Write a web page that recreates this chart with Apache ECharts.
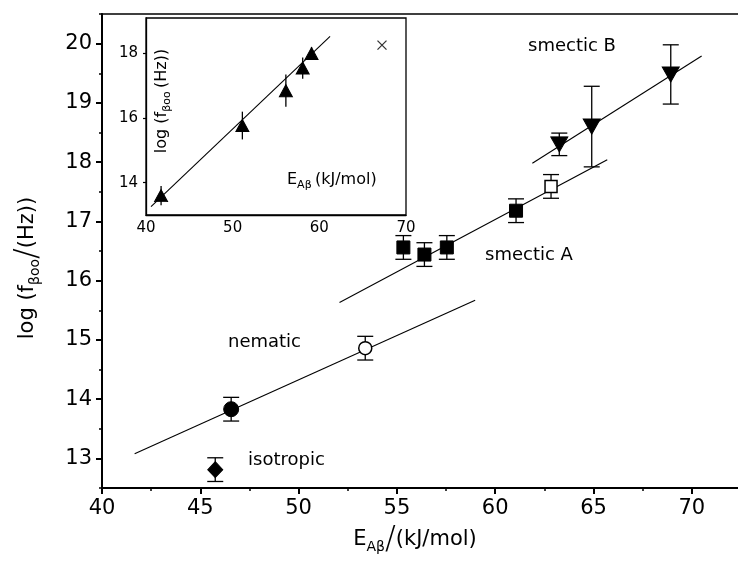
<!DOCTYPE html>
<html>
<head>
<meta charset="utf-8">
<script src="https://cdn.jsdelivr.net/npm/echarts@6/dist/echarts.min.js"></script>
<style>
html, body { margin: 0; padding: 0; background: #fff; }
#chart { width: 738px; height: 562px; }
</style>
</head>
<body>
<div id="chart"></div>
<script>
// main panel: values
const isoX = [45.76]
const isoY = [12.81]
const isoErr = [0.2]
const nemX = [46.57]
const nemY = [13.83]
const nemErr = [0.2]
const nemOpenX = [53.39]
const nemOpenY = [14.86]
const nemOpenErr = [0.2]
const smAX = [55.33, 56.4, 57.54, 61.06]
const smAY = [16.56, 16.44, 16.56, 17.18]
const smAErr = [0.2, 0.2, 0.2, 0.2]
const smAOpenX = [62.84]
const smAOpenY = [17.59]
const smAOpenErr = [0.2]
const smBX = [63.26, 64.91, 68.93]
const smBY = [18.3, 18.6, 19.48]
const smBErr = [0.19, 0.68, 0.5]

// fitted lines (end points)
const nemLineX = [41.66, 58.98]
const nemLineY = [13.08, 15.67]
const smALineX = [52.08, 65.7]
const smALineY = [15.63, 18.04]
const smBLineX = [61.89, 70.5]
const smBLineY = [17.98, 19.79]

// inset
const insX = [41.74, 51.12, 56.14, 58.08, 59.1]
const insY = [13.6, 15.77, 16.85, 17.55, 18.0]
const insErr = [0.3, 0.43, 0.5, 0.33, 0.2]
const insCrossX = [67.23]
const insCrossY = [18.26]
const insLineX = [40.58, 61.24]
const insLineY = [13.26, 18.53]

// ticks
const xMajor = [40, 45, 50, 55, 60, 65, 70]
const xMinor = [42.5, 47.5, 52.5, 57.5, 62.5, 67.5]
const yMajor = [13, 14, 15, 16, 17, 18, 19, 20]
const yMinor = [12.5, 13.5, 14.5, 15.5, 16.5, 17.5, 18.5, 19.5, 20.5]
const insYTicks = [14, 16, 18]

const FONT = 'DejaVu Sans'
const pairs = (xs, ys) => xs.map((x, i) => [x, ys[i]])

const errorBars = (xs, ys, errs, cap, idx) => ({
  type: 'custom',
  xAxisIndex: idx === 0 ? 0 : 3,
  yAxisIndex: idx === 0 ? 0 : 2,
  encode: { x: 0, y: [1, 2] },
  data: xs.map((x, i) => [x, ys[i] - errs[i], ys[i] + errs[i]]),
  z: 3,
  silent: true,
  renderItem: (params, api) => {
    const lo = api.coord([api.value(0), api.value(1)])
    const hi = api.coord([api.value(0), api.value(2)])
    const st = { stroke: '#000', lineWidth: 1.3 }
    const children = [{ type: 'line', shape: { x1: lo[0], y1: lo[1], x2: hi[0], y2: hi[1] }, style: st }]
    if (cap) {
      children.push({ type: 'line', shape: { x1: lo[0] - cap, y1: lo[1], x2: lo[0] + cap, y2: lo[1] }, style: st })
      children.push({ type: 'line', shape: { x1: hi[0] - cap, y1: hi[1], x2: hi[0] + cap, y2: hi[1] }, style: st })
    }
    return { type: 'group', children }
  }
})

const fitLine = (xs, ys, idx) => ({
  type: 'line',
  xAxisIndex: idx === 0 ? 0 : 3,
  yAxisIndex: idx === 0 ? 0 : 2,
  data: pairs(xs, ys),
  symbol: 'none',
  lineStyle: { color: '#000', width: 1.1 },
  silent: true,
  z: 2
})

const marker = (xs, ys, symbol, size, filled, rotate, idx) => ({
  type: 'scatter',
  xAxisIndex: idx === 0 ? 0 : 3,
  yAxisIndex: idx === 0 ? 0 : 2,
  data: pairs(xs, ys),
  symbol: symbol,
  symbolSize: size,
  symbolRotate: rotate || 0,
  itemStyle: filled
    ? { color: '#000', borderColor: '#000', borderWidth: 1, opacity: 1 }
    : { color: '#fff', borderColor: '#000', borderWidth: 1.5, opacity: 1 },
  z: 4
})

const chart = echarts.init(document.getElementById('chart'))

const option = {
  animation: false,
  backgroundColor: '#fff',
  grid: [
    { left: 102, top: 14, right: 0, bottom: 74 },
    { left: 146, top: 18, width: 260, height: 197, show: true, borderColor: '#000', borderWidth: 1.3, backgroundColor: '#fff' }
  ],
  xAxis: [
    {
      type: 'value', gridIndex: 0, min: 40, max: 72.35,
      name: '{n|E}{s|Aβ}{sl|/}{n|(kJ/mol)}',
      nameLocation: 'middle', nameGap: 32,
      nameTextStyle: {
        color: '#000', fontFamily: FONT, fontSize: 21, padding: [0, 10, 0, 0],
        rich: {
          n: { fontFamily: FONT, fontSize: 21, color: '#000' },
          s: { fontFamily: FONT, fontSize: 14, color: '#000', padding: [14, 0, 0, 0] },
          sl: { fontFamily: FONT, fontSize: 32, color: '#000', fontWeight: 'lighter' }
        }
      },
      axisLine: { onZero: false, lineStyle: { color: '#000', width: 2 } },
      axisTick: { customValues: xMajor, length: 6, lineStyle: { color: '#000', width: 2 } },
      axisLabel: { customValues: xMajor, color: '#000', fontFamily: FONT, fontSize: 21, margin: 10 },
      splitLine: { show: false }
    },
    {
      type: 'value', gridIndex: 0, min: 40, max: 72.35, position: 'bottom',
      axisLine: { show: false, onZero: false },
      axisTick: { customValues: xMinor, length: 3, lineStyle: { color: '#000', width: 1.5 } },
      axisLabel: { show: false },
      splitLine: { show: false }
    },
    // top frame line of the main panel
    {
      type: 'value', gridIndex: 0, min: 40, max: 72.35, position: 'top',
      axisLine: { onZero: false, lineStyle: { color: '#000', width: 1.5 } },
      axisTick: { show: false },
      axisLabel: { show: false },
      splitLine: { show: false }
    },
    {
      type: 'value', gridIndex: 1, min: 40, max: 70, interval: 10,
      axisLine: { onZero: false, lineStyle: { color: '#000', width: 1.3 } },
      axisTick: { show: false },
      axisLabel: { color: '#000', fontFamily: FONT, fontSize: 15, margin: 6 },
      splitLine: { show: false }
    }
  ],
  yAxis: [
    {
      type: 'value', gridIndex: 0, min: 12.5, max: 20.5,
      name: '{n|log (f}{s|βoo}{sl|/}{n|(Hz))}',
      nameLocation: 'middle', nameGap: 58, nameRotate: 90,
      nameTextStyle: {
        color: '#000', fontFamily: FONT, fontSize: 21, padding: [0, 34, 0, 0],
        rich: {
          n: { fontFamily: FONT, fontSize: 21, color: '#000' },
          s: { fontFamily: FONT, fontSize: 14, color: '#000', padding: [14, 0, 0, 0] },
          sl: { fontFamily: FONT, fontSize: 32, color: '#000', fontWeight: 'lighter' }
        }
      },
      axisLine: { onZero: false, lineStyle: { color: '#000', width: 2 } },
      axisTick: { customValues: yMajor, length: 6, lineStyle: { color: '#000', width: 2 } },
      axisLabel: { customValues: yMajor, color: '#000', fontFamily: FONT, fontSize: 21, margin: 10 },
      splitLine: { show: false }
    },
    {
      type: 'value', gridIndex: 0, min: 12.5, max: 20.5, position: 'left',
      axisLine: { show: false, onZero: false },
      axisTick: { customValues: yMinor, length: 3, lineStyle: { color: '#000', width: 1.5 } },
      axisLabel: { show: false },
      splitLine: { show: false }
    },
    {
      type: 'value', gridIndex: 1, min: 13, max: 19.1,
      axisLine: { onZero: false, lineStyle: { color: '#000', width: 1.3 } },
      axisTick: { customValues: insYTicks, length: 3, lineStyle: { color: '#000', width: 1.2 } },
      axisLabel: { customValues: insYTicks, color: '#000', fontFamily: FONT, fontSize: 15, margin: 8 },
      splitLine: { show: false }
    }
  ],
  series: [
    fitLine(nemLineX, nemLineY, 0),
    fitLine(smALineX, smALineY, 0),
    fitLine(smBLineX, smBLineY, 0),
    errorBars(isoX, isoY, isoErr, 8, 0),
    errorBars(nemX, nemY, nemErr, 8, 0),
    errorBars(nemOpenX, nemOpenY, nemOpenErr, 8, 0),
    errorBars(smAX, smAY, smAErr, 8, 0),
    errorBars(smAOpenX, smAOpenY, smAOpenErr, 8, 0),
    errorBars(smBX, smBY, smBErr, 8, 0),
    marker(isoX, isoY, 'diamond', [15, 16], true, 0, 0),
    marker(nemX, nemY, 'circle', 15, true, 0, 0),
    marker(nemOpenX, nemOpenY, 'circle', 13, false, 0, 0),
    marker(smAX, smAY, 'rect', 13, true, 0, 0),
    marker(smAOpenX, smAOpenY, 'rect', 12, false, 0, 0),
    marker(smBX, smBY, 'triangle', [17, 15], true, 180, 0),
    // inset
    fitLine(insLineX, insLineY, 1),
    errorBars(insX, insY, insErr, 0, 1),
    marker(insX, insY, 'triangle', [13, 12], true, 0, 1),
    {
      type: 'scatter', xAxisIndex: 3, yAxisIndex: 2,
      data: pairs(insCrossX, insCrossY),
      symbol: 'path://M0 0L10 10M10 0L0 10',
      symbolSize: 9,
      itemStyle: { color: 'none', borderColor: '#000', borderWidth: 1.3 },
      z: 4
    }
  ],
  graphic: [
    { type: 'text', x: 528, y: 46, z: 10, style: { text: 'smectic B', fontFamily: FONT, fontSize: 18, fill: '#000', verticalAlign: 'middle' } },
    { type: 'text', x: 485, y: 255, z: 10, style: { text: 'smectic A', fontFamily: FONT, fontSize: 18, fill: '#000', verticalAlign: 'middle' } },
    { type: 'text', x: 228, y: 342, z: 10, style: { text: 'nematic', fontFamily: FONT, fontSize: 18, fill: '#000', verticalAlign: 'middle' } },
    { type: 'text', x: 248, y: 460, z: 10, style: { text: 'isotropic', fontFamily: FONT, fontSize: 18, fill: '#000', verticalAlign: 'middle' } },
    {
      type: 'text', x: 287, y: 180, z: 10,
      style: {
        text: '{n|E}{s|Aβ} {n|(kJ/mol)}', verticalAlign: 'middle',
        rich: {
          n: { fontFamily: FONT, fontSize: 16, fill: '#000' },
          s: { fontFamily: FONT, fontSize: 11, fill: '#000', padding: [10, 0, 0, 0] }
        }
      }
    },
    {
      type: 'text', x: 162, y: 101, rotation: Math.PI / 2, z: 10,
      style: {
        text: '{n|log (f}{s|βoo} {n|(Hz))}', align: 'center', verticalAlign: 'middle',
        rich: {
          n: { fontFamily: FONT, fontSize: 16, fill: '#000' },
          s: { fontFamily: FONT, fontSize: 11, fill: '#000', padding: [10, 0, 0, 0] }
        }
      }
    }
  ]
}

chart.setOption(option)
</script>
</body>
</html>
